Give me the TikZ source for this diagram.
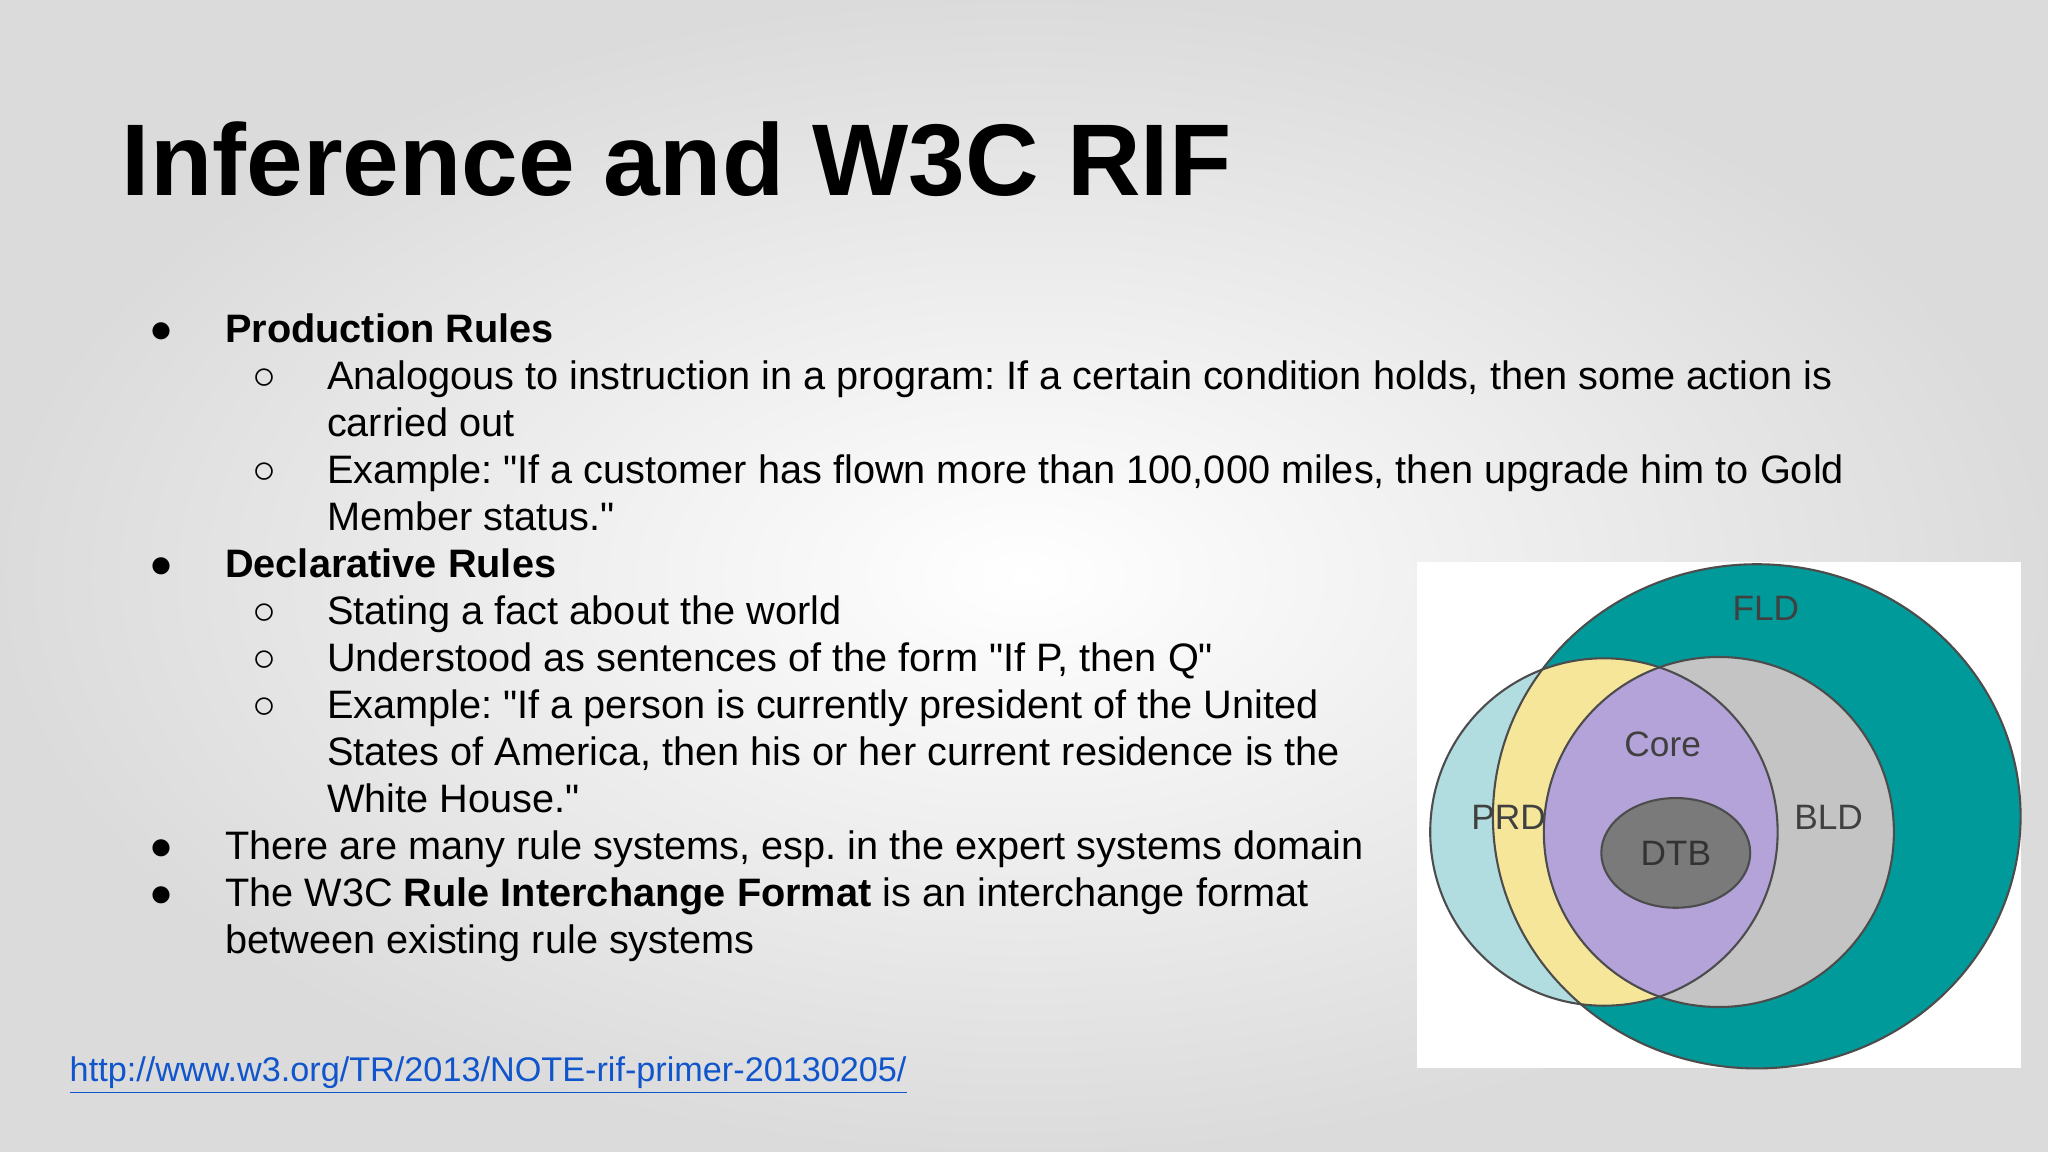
\documentclass[tikz,border=0pt]{standalone}
\usepackage{fontspec}
\setmainfont{Liberation Sans}[Ligatures=TeXOff]
\usepackage{xcolor}
\newcommand{\q}{"}
\begin{document}
\frenchspacing
\begin{tikzpicture}[x=0.5pt,y=-0.5pt,
  txt/.style={anchor=base west,inner sep=0pt,font=\fontsize{15.2pt}{18pt}\selectfont},
  ring/.style={draw=black!70,line width=0.8pt},
  vlab/.style={font=\fontsize{13.5pt}{15pt}\selectfont,text=black!75}]
\definecolor{teal1}{HTML}{009A9A}
\definecolor{pblue}{HTML}{B2DDE0}
\definecolor{pyel}{HTML}{F6E69A}
\definecolor{bgray}{HTML}{C4C4C4}
\definecolor{cpur}{HTML}{B3A3D9}
\definecolor{dgray}{HTML}{7A7A7A}
\definecolor{lnk}{HTML}{1155CC}
\shade[inner color=white,outer color=black!14] (0,0) rectangle (1568,882);
\useasboundingbox (0,0) rectangle (1568,882);
\node[anchor=base west,inner sep=0pt,font=\fontsize{39pt}{44pt}\selectfont\bfseries] (title) at (93,150) {Inference and W3C RIF};
% bullets
\node[txt] (b1) at (114,262) {●};
\node[txt] (t1) at (172,262) {\bfseries Production Rules};
\node[txt] (s1) at (193,298) {○};
\node[txt] (t2) at (250,298) {Analogous to instruction in a program: If a certain condition holds, then some action is};
\node[txt] (t3) at (250,334) {carried out};
\node[txt] (s2) at (193,370) {○};
\node[txt] (t4) at (250,370) {Example: \q If a customer has flown more than 100,000 miles, then upgrade him to Gold};
\node[txt] (t5) at (250,406) {Member status.\q};
\node[txt] (b2) at (114,442) {●};
\node[txt] (t6) at (172,442) {\bfseries Declarative Rules};
\node[txt] (s3) at (193,478) {○};
\node[txt] (t7) at (250,478) {Stating a fact about the world};
\node[txt] (s4) at (193,514) {○};
\node[txt] (t8) at (250,514) {Understood as sentences of the form \q If P, then Q\q};
\node[txt] (s5) at (193,550) {○};
\node[txt] (t9) at (250,550) {Example: \q If a person is currently president of the United};
\node[txt] (t10) at (250,586) {States of America, then his or her current residence is the};
\node[txt] (t11) at (250,622) {White House.\q};
\node[txt] (b3) at (114,658) {●};
\node[txt] (t12) at (172,658) {There are many rule systems, esp. in the expert systems domain};
\node[txt] (b4) at (114,694) {●};
\node[txt] (t13) at (172,694) {The W3C \textbf{Rule Interchange Format} is an interchange format};
\node[txt] (t14) at (172,730) {between existing rule systems};
\node[txt,font=\fontsize{13.1pt}{15pt}\selectfont,text=lnk] (link) at (53,828) {\underline{http://www.w3.org/TR/2013/NOTE-rif-primer-20130205/}};
% venn
\fill[white] (1085,430) rectangle (1547,818);
\fill[teal1] (1345,625) ellipse [x radius=202,y radius=193];
\fill[pblue] (1228,637) circle [radius=133];
\begin{scope}
 \clip (1228,637) circle [radius=133];
 \fill[pyel] (1345,625) ellipse [x radius=202,y radius=193];
\end{scope}
\fill[bgray] (1316,637) circle [radius=134];
\begin{scope}
 \clip (1228,637) circle [radius=133];
 \fill[cpur] (1316,637) circle [radius=134];
\end{scope}
\draw[ring] (1345,625) ellipse [x radius=202,y radius=193];
\draw[ring] (1228,637) circle [radius=133];
\draw[ring] (1316,637) circle [radius=134];
\draw[ring,fill=dgray] (1283,653) ellipse [x radius=57,y radius=42];
\node[vlab] (fld) at (1352,466) {FLD};
\node[vlab] (core) at (1273,570) {Core};
\node[vlab] (prd) at (1155,626) {PRD};
\node[vlab] (bld) at (1400,626) {BLD};
\node[vlab,text=black!80] (dtb) at (1283,653) {DTB};
\end{tikzpicture}
\end{document}
